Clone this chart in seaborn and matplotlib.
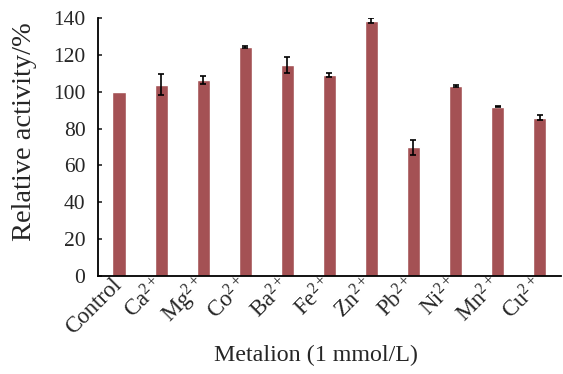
import pandas as pd
import matplotlib
matplotlib.use('Agg')
import matplotlib.pyplot as plt
import seaborn as sns

sns.set_theme(style='ticks', rc={'axes.facecolor': 'white', 'figure.facecolor': 'white'})
plt.rcParams['font.family'] = ['Liberation Serif', 'DejaVu Serif']
plt.rcParams['mathtext.fontset'] = 'custom'
plt.rcParams['mathtext.rm'] = 'Liberation Serif'
plt.rcParams['mathtext.it'] = 'Liberation Serif:italic'

# data
ions = ['Control', 'Ca', 'Mg', 'Co', 'Ba', 'Fe', 'Zn', 'Pb', 'Ni', 'Mn', 'Cu']
activity = [100, 103.8, 106.5, 124.2, 114.5, 109.0, 138.6, 69.8, 103.3, 91.9, 85.9]
errors = [0, 5.6, 2.1, 0.5, 4.3, 1.3, 1.2, 3.9, 0.5, 0.4, 1.4]
tick_labels = ['Control'] + [ion + r'$^{2+}$' for ion in ions[1:]]

df = pd.DataFrame({'ion': ions, 'activity': activity, 'err': errors})

fig = plt.figure(figsize=(5.63, 3.74), dpi=100)
ax = fig.add_axes([0.174, 0.262, 0.822, 0.69])

sns.barplot(data=df, x='ion', y='activity', color='#A45154', width=0.31,
            saturation=1, errorbar=None, ax=ax)
witherr = df[df['err'] > 0]
ax.errorbar(witherr['ion'], witherr['activity'], yerr=witherr['err'], fmt='none',
            ecolor='black', elinewidth=1.2, capsize=2.3, capthick=1.2)

ax.set_ylim(0, 140)
ax.set_xlim(-0.5, 10.5)
ax.set_yticks(range(0, 141, 20))
ax.tick_params(axis='y', direction='in', length=3, width=1.2, labelsize=15.5, pad=9)
ax.tick_params(axis='x', length=0, labelsize=16.5, pad=4)
ax.set_xticks(range(len(ions)))
ax.set_xticklabels(tick_labels, rotation=45, ha='right', va='center', rotation_mode='anchor')

for side in ['top', 'right']:
    ax.spines[side].set_visible(False)
for side in ['left', 'bottom']:
    ax.spines[side].set_linewidth(1.3)
    ax.spines[side].set_color('black')

ax.set_xlabel('Metalion (1 mmol/L)', fontsize=17.3)
ax.set_ylabel('Relative activity/%', fontsize=20.5)
ax.xaxis.set_label_coords(0.472, -0.265)
ax.yaxis.set_label_coords(-0.132, 0.56)

fig.savefig('out.png', dpi=100)
